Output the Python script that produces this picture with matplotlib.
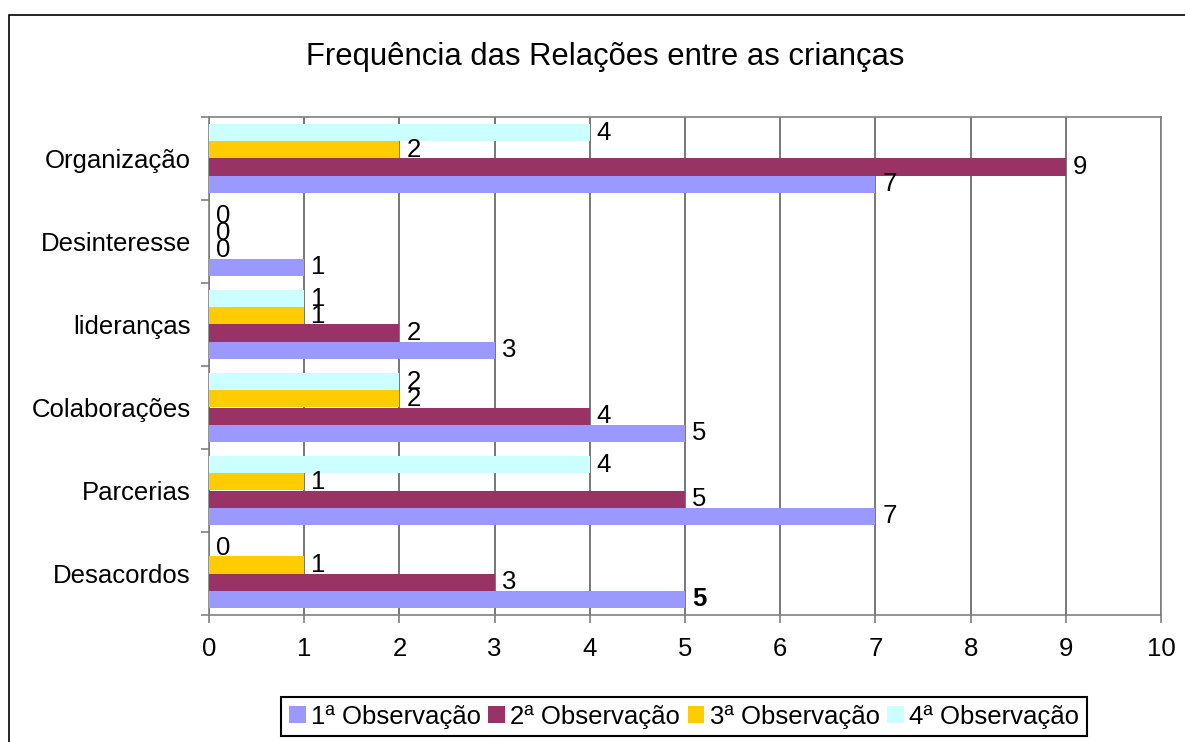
import numpy as np
import matplotlib
matplotlib.use("Agg")
import matplotlib.pyplot as plt
from matplotlib.patches import Patch, Rectangle

plt.rcParams['font.family'] = ['Liberation Sans', 'DejaVu Sans']

# --- DADOS ---
categorias = ["Desacordos", "Parcerias", "Colaborações", "lideranças", "Desinteresse", "Organização"]
series = ["1ª Observação", "2ª Observação", "3ª Observação", "4ª Observação"]
obs1 = [5, 7, 5, 3, 1, 7]
obs2 = [3, 5, 4, 2, 0, 9]
obs3 = [1, 1, 2, 1, 0, 2]
obs4 = [0, 4, 2, 1, 0, 4]
cores = ["#9999FF", "#993366", "#FFCC00", "#CCFFFF"]
titulo = "Frequência das Relações entre as crianças"

valores = [obs1, obs2, obs3, obs4]
FS = 18.5

fig = plt.figure(figsize=(11.85, 7.42), dpi=100)
ax = fig.add_axes([209 / 1185, 1 - 615 / 742, (1161 - 209) / 1185, (615 - 117) / 742])

# moldura externa
fig.patches.append(Rectangle((9 / 1185, -0.2), 1.2, 1.2 - 15 / 742,
                             transform=fig.transFigure, fill=False,
                             edgecolor="black", linewidth=1.2))

y = np.arange(len(categorias))
h = 0.205
for i, (vals, cor) in enumerate(zip(valores, cores)):
    pos = y + (i - 1.5) * h
    ax.barh(pos, vals, height=h, color=cor, edgecolor="none", zorder=3)
    for p, v in zip(pos, vals):
        negrito = (i == 0 and v == 5 and p < 0)
        ax.annotate(str(v), (v, p), xytext=(5, 0), textcoords="offset points",
                    va="center", ha="left", fontsize=FS,
                    fontweight="bold" if negrito else "normal", zorder=4)

ax.set_xlim(0, 10)
ax.set_ylim(-0.5, len(categorias) - 0.5)
ax.set_xticks(range(0, 11))
ax.set_yticks(y)
ax.set_yticklabels(categorias)
ax.set_yticks(np.arange(-0.5, len(categorias)), minor=True)
ax.tick_params(axis="y", which="major", length=0, pad=13, labelsize=FS)
ax.tick_params(axis="y", which="minor", length=6, width=1.2, color="#808080", direction="out")
ax.tick_params(axis="x", length=6, width=1.2, color="#808080", direction="out", pad=10, labelsize=FS)
ax.grid(axis="x", color="#606060", linewidth=1.2, zorder=0)
for s in ax.spines.values():
    s.set_color("#808080")
    s.set_linewidth(1.2)

fig.text(605 / 1185, 1 - 57 / 742, titulo, ha="center", va="center", fontsize=22.3)

handles = [Patch(facecolor=c, edgecolor="none", label=s) for c, s in zip(cores, series)]
leg = fig.legend(handles=handles, loc="upper center", ncol=4,
                 bbox_to_anchor=(684 / 1185, 1 - 697 / 742),
                 fontsize=FS, frameon=True, fancybox=False, framealpha=1,
                 edgecolor="black", handlelength=0.65, handleheight=0.65,
                 handletextpad=0.2, columnspacing=0.3, borderpad=0.3, borderaxespad=0)
leg.get_frame().set_linewidth(1.5)

fig.savefig("out.png", dpi=100)
